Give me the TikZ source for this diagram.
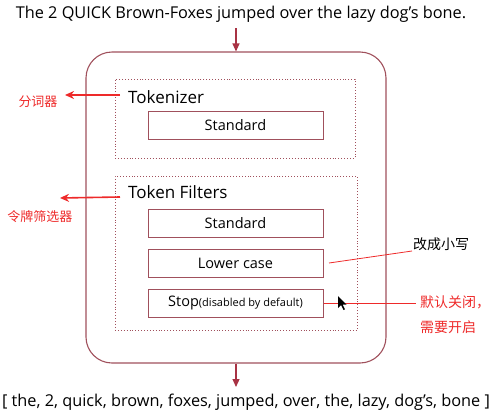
\documentclass[tikz,border=0pt]{standalone}
\usepackage{fontspec}
\setmainfont{Open Sans}
\newfontfamily\cjk{Noto Sans CJK SC}
\usetikzlibrary{arrows.meta}
\definecolor{boxc}{HTML}{A0505C}
\definecolor{arrc}{HTML}{A83244}
\definecolor{redc}{HTML}{EE2A2A}
\begin{document}
\begin{tikzpicture}[x=1pt,y=-1pt,
  filt/.style={draw=boxc, line width=1pt, minimum width=175pt, minimum height=28pt, inner sep=0pt, font=\fontsize{14.5}{16}\selectfont},
  grp/.style={draw=boxc, dotted, line width=0.9pt, inner sep=0pt},
  ttl/.style={anchor=west, inner sep=0pt, font=\fontsize{17}{20}\selectfont},
  flow/.style={draw=arrc, line width=1.2pt, -{Triangle[length=8pt,width=7pt]}},
  redarr/.style={draw=redc, line width=1.6pt, -{Stealth[length=9pt,width=8pt]}},
  note/.style={draw=redc, line width=0.8pt},
  cn/.style={inner sep=0pt, font=\cjk\fontsize{13}{15}\selectfont},
  big/.style={inner sep=0pt, font=\fontsize{16.3}{19}\selectfont}]
\useasboundingbox (0,0) rectangle (501,418);
\node[big] (src) at (241,14) {The 2 QUICK Brown-Foxes jumped over the lazy dog's bone.};
\node[draw=boxc, line width=1.1pt, rounded corners=26pt, minimum width=300pt, minimum height=311pt, inner sep=0pt] (outer) at (236,207.5) {};
\node[grp, minimum width=240pt, minimum height=79pt] (tokgrp) at (235,118.5) {};
\node[grp, minimum width=242pt, minimum height=154pt] (filgrp) at (236,253) {};
\node[ttl] (tokt) at (128,97) {Tokenizer};
\node[ttl] (filt) at (128,192) {Token Filters};
\node[filt] (std1) at (235.5,125.5) {Standard};
\node[filt] (std2) at (235.5,223) {Standard};
\node[filt] (low) at (235.5,263) {Lower case};
\node[filt] (stop) at (235.5,303) {Stop{\fontsize{11}{13}\selectfont(disabled by default)}};
\node[big] (res) at (246,402) {[ the, 2, quick, brown, foxes, jumped, over, the, lazy, dog's, bone ]};
\coordinate (topin) at (236,28);
\coordinate (botout) at (236,387);
\draw[flow] (topin) -- (outer.north);
\draw[flow] (outer.south) -- (botout);
% left labels
\node[cn, text=redc] (fcq) at (38,102) {分词器};
\node[cn, text=redc] (lpq) at (40,217) {令牌筛选器};
\coordinate (a1s) at (120,95);
\coordinate (a1e) at (65,95);
\coordinate (a2s) at (120,197);
\coordinate (a2e) at (60,198);
\draw[redarr] (a1s) -- (a1e);
\draw[redarr] (a2s) -- (a2e);
% right notes
\node[cn, text=black, anchor=west, font=\cjk\fontsize{14}{16}\selectfont] (lowc) at (413,244) {改成小写};
\node[cn, text=redc, anchor=west, font=\cjk\fontsize{14}{16}\selectfont] (offc) at (420,302) {默认关闭，};
\node[cn, text=redc, anchor=west, font=\cjk\fontsize{14}{16}\selectfont] (onc) at (420,327) {需要开启};
\coordinate (l1) at (329,263);
\coordinate (l2) at (412,251);
\draw[note] (l1) -- (l2);
\coordinate (s2) at (416,303);
\draw[note] (stop.east) -- (s2);
% mouse cursor
\fill[black] (338,296) -- (338,308) -- (341,305) -- (343.5,310) -- (345,309.3) -- (342.5,304.5) -- (346.5,304.5) -- cycle;
\end{tikzpicture}
\end{document}
